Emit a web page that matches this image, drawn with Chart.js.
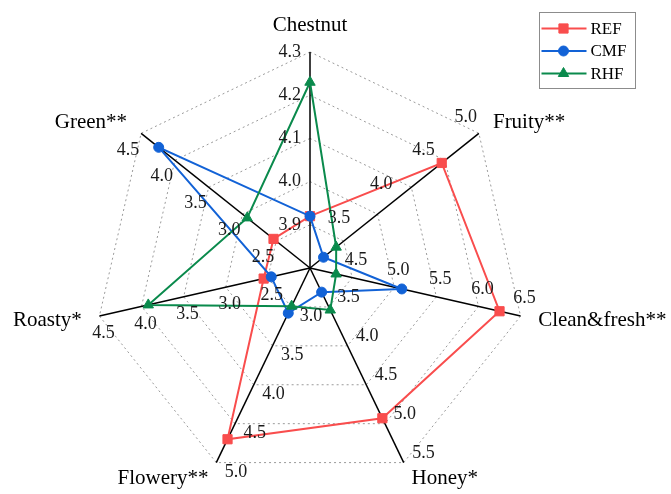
<!DOCTYPE html>
<html>
<head>
<meta charset="utf-8">
<script src="https://cdn.jsdelivr.net/npm/chart.js@4.4.0/dist/chart.umd.min.js"></script>
<style>
  html, body { margin: 0; padding: 0; background: #ffffff; }
  #wrap { width: 671px; height: 494px; }
</style>
</head>
<body>
<div id="wrap"><canvas id="radar" width="671" height="494"></canvas></div>
<script>
// Attribute axes, clockwise from the top
const axisLabels = ['Chestnut', 'Fruity**', 'Clean&fresh**', 'Honey*', 'Flowery**', 'Roasty*', 'Green**'];
// Each attribute has its own scale: value at the centre and at the outer ring
const axisMin = [3.8, 3.0, 4.0, 3.0, 2.5, 2.0, 2.0];
const axisMax = [4.3, 5.0, 6.5, 5.5, 5.0, 4.5, 4.5];
// Tick labels printed along each axis
const axisTicks = [
  [3.9, 4.0, 4.1, 4.2, 4.3],
  [3.5, 4.0, 4.5, 5.0],
  [4.5, 5.0, 5.5, 6.0, 6.5],
  [3.5, 4.0, 4.5, 5.0, 5.5],
  [3.0, 3.5, 4.0, 4.5, 5.0],
  [2.5, 3.0, 3.5, 4.0, 4.5],
  [2.5, 3.0, 3.5, 4.0, 4.5]
];
// Sensory scores per sample
const seriesNames = ['REF', 'CMF', 'RHF'];
const refValues = [3.92, 4.56, 6.25, 4.93, 4.70, 2.55, 2.54];
const cmfValues = [3.92, 3.16, 5.09, 3.31, 3.08, 2.46, 4.24];
const rhfValues = [4.23, 3.31, 4.31, 3.54, 2.99, 3.92, 2.93];

// Shared radial scale runs 0..RINGS; every attribute is mapped onto it
const RINGS = 5;
function toRing(i, v) {
  return (v - axisMin[i]) / (axisMax[i] - axisMin[i]) * RINGS;
}
function mapSeries(values) {
  return values.map((v, i) => toRing(i, v));
}

const SERIF = '"Liberation Serif", "Times New Roman", serif';

function drawMarker(ctx, style, r, x, y) {
  ctx.beginPath();
  if (style === 'rect') {
    const s = r / Math.SQRT2;
    ctx.rect(x - s, y - s, 2 * s, 2 * s);
  } else if (style === 'triangle') {
    for (let k = 0; k < 3; k++) {
      const a = k * 2 * Math.PI / 3;
      const px = x + Math.sin(a) * r, py = y - Math.cos(a) * r;
      if (k === 0) ctx.moveTo(px, py); else ctx.lineTo(px, py);
    }
    ctx.closePath();
  } else {
    ctx.arc(x, y, r, 0, Math.PI * 2);
  }
  ctx.fill();
  ctx.stroke();
}

const axisTextPlugin = {
  id: 'axisText',
  afterDraw(chart) {
    const scale = chart.scales.r;
    const ctx = chart.ctx;
    const R = scale.drawingArea;
    ctx.save();

    // per-axis tick labels, set beside the axis on its counter-clockwise side
    ctx.font = '18px ' + SERIF;
    ctx.fillStyle = '#1a1a1a';
    ctx.textAlign = 'center';
    ctx.textBaseline = 'middle';
    axisTicks.forEach((ticks, i) => {
      const end = scale.getPointPosition(i, R);
      const dx = (end.x - scale.xCenter) / R;
      const dy = (end.y - scale.yCenter) / R;
      const px = dy, py = -dx;
      ticks.forEach(t => {
        const txt = t.toFixed(1);
        const w = ctx.measureText(txt).width;
        const off = 9 + Math.abs(px) * w / 2 + Math.abs(py) * 6.5;
        const p = scale.getPointPositionForValue(i, toRing(i, t));
        ctx.fillText(txt, p.x + px * off, p.y + py * off);
      });
    });

    // attribute names beyond the axis ends
    ctx.font = '21px ' + SERIF;
    ctx.fillStyle = '#000000';
    axisLabels.forEach((label, i) => {
      const a = scale.getPointPosition(i, R + 18);
      const dx = a.x - scale.xCenter;
      if (Math.abs(dx) < 1) {
        ctx.textAlign = 'center';
        ctx.textBaseline = 'alphabetic';
        ctx.fillText(label, a.x, a.y - 3);
      } else {
        ctx.textAlign = dx > 0 ? 'left' : 'right';
        ctx.textBaseline = 'middle';
        ctx.fillText(label, a.x, a.y);
      }
    });

    // boxed legend, top right
    const box = { x: 539.5, y: 12.5, w: 96, h: 76 };
    ctx.strokeStyle = '#8c8c8c';
    ctx.lineWidth = 1;
    ctx.strokeRect(box.x, box.y, box.w, box.h);
    ctx.font = '17px ' + SERIF;
    ctx.textAlign = 'left';
    ctx.textBaseline = 'middle';
    chart.data.datasets.forEach((ds, k) => {
      const y = box.y + 16 + k * 22.5;
      ctx.strokeStyle = ds.borderColor;
      ctx.lineWidth = 2;
      ctx.beginPath();
      ctx.moveTo(box.x + 2, y);
      ctx.lineTo(box.x + 47, y);
      ctx.stroke();
      ctx.fillStyle = ds.pointBackgroundColor;
      ctx.lineWidth = 1;
      drawMarker(ctx, ds.pointStyle, ds.pointRadius, box.x + 24, y);
      ctx.fillStyle = '#000000';
      ctx.fillText(ds.label, box.x + 51, y + 1);
    });
    ctx.restore();
  }
};

const colors = ['#F94D4D', '#1262D6', '#0A8A4C'];
const styles = ['rect', 'circle', 'triangle'];
const radii = [6.5, 5, 6];
const valueSets = [refValues, cmfValues, rhfValues];
const drawOrder = [2, 1, 0];

const datasets = seriesNames.map((name, k) => ({
  label: name,
  data: mapSeries(valueSets[k]),
  borderColor: colors[k],
  backgroundColor: colors[k],
  pointBackgroundColor: colors[k],
  pointBorderColor: colors[k],
  pointStyle: styles[k],
  pointRadius: radii[k],
  pointBorderWidth: 1,
  borderWidth: 2,
  fill: false,
  order: drawOrder[k]
}));

new Chart(document.getElementById('radar'), {
  type: 'radar',
  data: { labels: axisLabels, datasets },
  options: {
    responsive: false,
    animation: false,
    events: [],
    layout: { padding: { top: 52, bottom: 10, left: 0, right: 51 } },
    plugins: { legend: { display: false }, tooltip: { enabled: false } },
    elements: { line: { tension: 0 } },
    scales: {
      r: {
        min: 0,
        max: RINGS,
        ticks: { display: false, stepSize: 1 },
        pointLabels: { display: false },
        grid: { circular: false, color: '#9a9a9a', lineWidth: 1 },
        border: { dash: [2, 3] },
        angleLines: { display: true, color: '#000000', lineWidth: 1.5 }
      }
    }
  },
  plugins: [axisTextPlugin]
});
</script>
</body>
</html>
